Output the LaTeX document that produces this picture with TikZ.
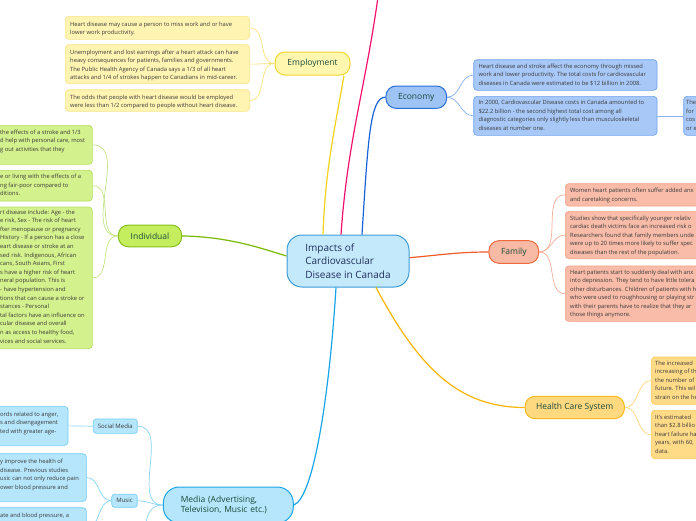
\documentclass[tikz,border=0pt]{standalone}
\usepackage{fontspec}
\setmainfont{Open Sans}
\definecolor{txt}{HTML}{3A3A3A}
\definecolor{lbl}{HTML}{1B4A3A}
\definecolor{ctr}{HTML}{1F2F5C}
\definecolor{cenF}{HTML}{C4E9FB}\definecolor{cenB}{HTML}{3C9CD8}
\definecolor{empF}{HTML}{FFF6B0}\definecolor{empB}{HTML}{F2D52E}
\definecolor{empLF}{HTML}{FFF4B2}\definecolor{empLB}{HTML}{F8E48A}
\definecolor{ecoF}{HTML}{9EC3F5}\definecolor{ecoB}{HTML}{2B6FD8}
\definecolor{ecoLF}{HTML}{A8C8F7}\definecolor{ecoLB}{HTML}{70A3EE}
\definecolor{famF}{HTML}{F8B9A5}\definecolor{famB}{HTML}{EE6B3F}
\definecolor{famLF}{HTML}{F8BCA8}\definecolor{famLB}{HTML}{F3A086}
\definecolor{hcsF}{HTML}{FFD97F}\definecolor{hcsB}{HTML}{F6B91E}
\definecolor{hcsLF}{HTML}{FFDB88}\definecolor{hcsLB}{HTML}{FBCB5A}
\definecolor{indF}{HTML}{C5EE5F}\definecolor{indB}{HTML}{86BF1B}
\definecolor{indLF}{HTML}{D3F18C}\definecolor{indLB}{HTML}{B5DF60}
\definecolor{medF}{HTML}{B5E6FB}\definecolor{medB}{HTML}{1DA6E5}
\definecolor{medS}{HTML}{74CDF2}
\definecolor{cEmp}{HTML}{F2D319}\definecolor{cPink}{HTML}{F5106E}
\definecolor{cEco}{HTML}{1762D8}\definecolor{cFam}{HTML}{F05A24}
\definecolor{cHcs}{HTML}{F7B500}\definecolor{cMed}{HTML}{18A5E8}
\definecolor{cInd}{HTML}{79B800}
\definecolor{lEmp}{HTML}{F6E27C}\definecolor{lEco}{HTML}{85B1EF}
\definecolor{lFam}{HTML}{F7AE96}\definecolor{lHcs}{HTML}{FCD37C}
\definecolor{lInd}{HTML}{C4E286}\definecolor{lMed}{HTML}{86D3F3}
\tikzset{
 mainbox/.style={rounded corners=10pt, line width=1pt, inner sep=0, font=\fontsize{8.5}{10}\selectfont, text=lbl},
 leafbox/.style={rounded corners=3.5pt, line width=0.7pt, anchor=north west, inner sep=0},
 lt/.style={font=\fontsize{5.8}{8.5}\selectfont, inner sep=0, align=left, anchor=base west, text=txt},
 subbox/.style={rounded corners=3pt, line width=0.7pt, inner sep=0, font=\fontsize{6}{7}\selectfont, text=txt, fill=medF, draw=medS},
 br/.style={line width=1.2pt},
 lk/.style={line width=0.7pt},
}
\begin{document}
\begin{tikzpicture}[x=1pt,y=-1pt]
\useasboundingbox (0,0) rectangle (696,520);
\clip (0,0) rectangle (696,520);

% ---------- main nodes ----------
\node[mainbox, rounded corners=15pt, fill=cenF, draw=cenB, minimum width=122, minimum height=52, align=left, font=\fontsize{10}{13.5}\selectfont, text=ctr] (c) at (348,261) {Impacts of\\Cardiovascular\\Disease in Canada};
\node[mainbox, fill=empF, draw=empB, minimum width=75, minimum height=23] (emp) at (312.5,63.5) {Employment};
\node[mainbox, fill=ecoF, draw=ecoB, minimum width=60.7, minimum height=22.3] (eco) at (416.3,97.2) {Economy};
\node[mainbox, fill=famF, draw=famB, minimum width=49.7, minimum height=22.6] (fam) at (513.8,252) {Family};
\node[mainbox, fill=hcsF, draw=hcsB, minimum width=99.3, minimum height=22.4] (hcs) at (574.7,407.5) {Health Care System};
\node[mainbox, fill=indF, draw=indB, minimum width=63.4, minimum height=21.7] (ind) at (150,235.9) {Individual};
\node[mainbox, rounded corners=16pt, fill=medF, draw=medB, minimum width=130, minimum height=36, align=left, text width=95] (med) at (228.3,505) {Media (Advertising,\\Television, Music etc.)};
\node[subbox, minimum width=44, minimum height=14.3] (soc) at (115.3,426.2) {Social Media};
\node[subbox, minimum width=25.6, minimum height=13] (mus) at (124.5,500.8) {Music};

% ---------- branch connectors ----------
\coordinate (pinkend) at (378,-3);
\coordinate (medend) at (140,560);
\draw[br, cEmp] ([xshift=-25pt]c.north) to[out=88,in=-100] ([xshift=31.5pt]emp.south);
\draw[br, cPink] ([xshift=-7pt]c.north) to[out=86,in=-98] (pinkend);
\draw[br, cEco] ([xshift=14pt]c.north) .. controls (368,140) and (370,97) .. (eco.west);
\draw[br, cFam] ([yshift=3.3pt]c.east) to[out=5,in=180] (fam.west);
\draw[br, cHcs] ([xshift=28pt]c.south) .. controls (420,370) and (460,407.5) .. (hcs.west);
\draw[br, cMed] ([xshift=-12pt]c.south) .. controls (329,400) and (313,498) .. (med.east);
\draw[br, cInd] (ind.east) .. controls (230,237) and (260,248) .. ([yshift=5pt]c.west);

% ---------- employment leaves ----------
\node[leafbox, fill=empLF, draw=empLB, minimum width=184.3, minimum height=23] (el1) at (65,16) {};
\node[lt] (el1t) at (70,34.5) {Heart disease may cause a person to miss work and or have\\lower work productivity.};
\node[leafbox, fill=empLF, draw=empLB, minimum width=184.3, minimum height=39] (el2) at (65,44.3) {};
\node[lt] (el2t) at (70,79.5) {Unemployment and lost earnings after a heart attack can have\\heavy consequences for patients, families and governments.\\The Public Health Agency of Canada says a 1/3 of all heart\\attacks and 1/4 of strokes happen to Canadians in mid-career.};
\node[leafbox, fill=empLF, draw=empLB, minimum width=184.3, minimum height=21.7] (el3) at (65,89.3) {};
\node[lt] (el3t) at (70,107.8) {The odds that people with heart disease would be employed\\were less than 1/2 compared to people without heart disease.};
\foreach \n in {el1,el2,el3} \draw[lk, lEmp] (emp.west) to[out=180,in=0] (\n.east);

% ---------- economy leaves ----------
\node[leafbox, fill=ecoLF, draw=ecoLB, minimum width=183.4, minimum height=30.7] (ec1) at (473.3,59.3) {};
\node[lt] (ec1t) at (478.3,85) {Heart disease and stroke affect the economy through missed\\work and lower productivity. The total costs for cardiovascular\\diseases in Canada were estimated to be \$12 billion in 2008.};
\node[leafbox, fill=ecoLF, draw=ecoLB, minimum width=183.4, minimum height=39] (ec2) at (473.3,96) {};
\node[lt] (ec2t) at (478.3,130.2) {In 2000, Cardiovascular Disease costs in Canada amounted to\\\$22.2 billion - the second highest total cost among all\\diagnostic categories only slightly less than musculoskeletal\\diseases at number one.};
\node[leafbox, fill=ecoLF, draw=ecoLB, minimum width=60, minimum height=39] (ec3) at (683.3,96) {};
\node[lt] (ec3t) at (686,130.2) {The\\for\\cos\\or e};
\draw[lk, lEco] (eco.east) to[out=0,in=180] (ec1.west);
\draw[lk, lEco] (eco.east) to[out=0,in=180] (ec2.west);
\draw[lk, lEco] (ec2.east) -- (ec3.west);

% ---------- family leaves ----------
\node[leafbox, fill=famLF, draw=famLB, minimum width=150, minimum height=22.4] (f1) at (565,183.3) {};
\node[lt] (f1t) at (570,201.2) {Women heart patients often suffer added anx\\and caretaking concerns.};
\node[leafbox, fill=famLF, draw=famLB, minimum width=150, minimum height=47.3] (f2) at (565,211) {};
\node[lt] (f2t) at (570,254.3) {Studies show that specifically younger relativ\\cardiac death victims face an increased risk o\\Researchers found that family members unde\\were up to 20 times more likely to suffer spec\\diseases than the rest of the population.};
\node[leafbox, fill=famLF, draw=famLB, minimum width=150, minimum height=55.3] (f3) at (565,265.7) {};
\node[lt] (f3t) at (570,316.8) {Heart patients start to suddenly deal with anx\\into depression. They tend to have little tolera\\other disturbances. Children of patients with h\\who were used to roughhousing or playing str\\with their parents have to realize that they ar\\those things anymore.};
\foreach \n in {f1,f2,f3} \draw[lk, lFam] (fam.east) to[out=0,in=180] (\n.west);

% ---------- health care leaves ----------
\node[leafbox, fill=hcsLF, draw=hcsLB, minimum width=80, minimum height=47.3] (h1) at (651,356.7) {};
\node[lt] (h1t) at (655,399.3) {The increased\\increasing of th\\the number of\\future. This wil\\strain on the he};
\node[leafbox, fill=hcsLF, draw=hcsLB, minimum width=80, minimum height=48.3] (h2) at (651,410) {};
\node[lt] (h2t) at (655,453.3) {It's estimated\\than \$2.8 billio\\heart failure ha\\years, with 60,\\data.};
\foreach \n in {h1,h2} \draw[lk, lHcs] (hcs.east) to[out=0,in=180] (\n.west);

% ---------- individual leaves ----------
\node[leafbox, fill=indLF, draw=indLB, minimum width=102, minimum height=39] (i1) at (-10,125) {};
\node[lt] (i1t) at (0,151.3) {the effects of a stroke and 1/3\\d help with personal care, most\\g out activities that they};
\node[leafbox, fill=indLF, draw=indLB, minimum width=102, minimum height=30.7] (i2) at (-10,170) {};
\node[lt] (i2t) at (0,195.7) {e or living with the effects of a\\ng fair-poor compared to\\ditions.};
\node[leafbox, fill=indLF, draw=indLB, minimum width=102, minimum height=141.6] (i3) at (-10,206.7) {};
\node[lt, font=\fontsize{5.8}{8.6}\selectfont] (i3t) at (0,343) {rt disease include: Age - the\\e risk, Sex - The risk of heart\\fter menopause or pregnancy\\History - If a person has a close\\eart disease or stroke at an\\sed risk. Indigenous, African\\cans, South Asians, First\\s have a higher risk of heart\\neral population. This is\\- have hypertension and\\tions that can cause a stroke or\\stances - Personal\\tal factors have an influence on\\cular disease and overall\\n as access to healthy food,\\vices and social services.};
\foreach \n in {i1,i2,i3} \draw[lk, lInd] (ind.west) to[out=180,in=0] (\n.east);

% ---------- media leaves ----------
\node[leafbox, fill=medF, draw=medS, minimum width=77.7, minimum height=39] (sl) at (-10,406) {};
\node[lt] (slt) at (0,433) {ords related to anger,\\s and disengagement\\ted with greater age-};
\node[leafbox, fill=medF, draw=medS, minimum width=96, minimum height=47.7] (ml1) at (-10,453.3) {};
\node[lt] (ml1t) at (0,489.2) {y improve the health of\\disease. Previous studies\\usic can not only reduce pain\\ower blood pressure and};
\node[leafbox, fill=medF, draw=medS, minimum width=96, minimum height=40] (ml2) at (-10,507.3) {};
\node[lt] (ml2t) at (0,517.7) {ate and blood pressure, a};
\draw[lk, lMed] (med.west) to[out=180,in=0] (soc.east);
\draw[lk, lMed] (med.west) to[out=180,in=0] (mus.east);
\draw[lk, lMed] (med.west) to[out=180,in=70] (medend);
\draw[lk, lMed] (soc.west) -- (sl.east);
\draw[lk, lMed] (mus.west) to[out=180,in=0] (ml1.east);
\draw[lk, lMed] (mus.west) to[out=180,in=0] (ml2.east);
\end{tikzpicture}
\end{document}
